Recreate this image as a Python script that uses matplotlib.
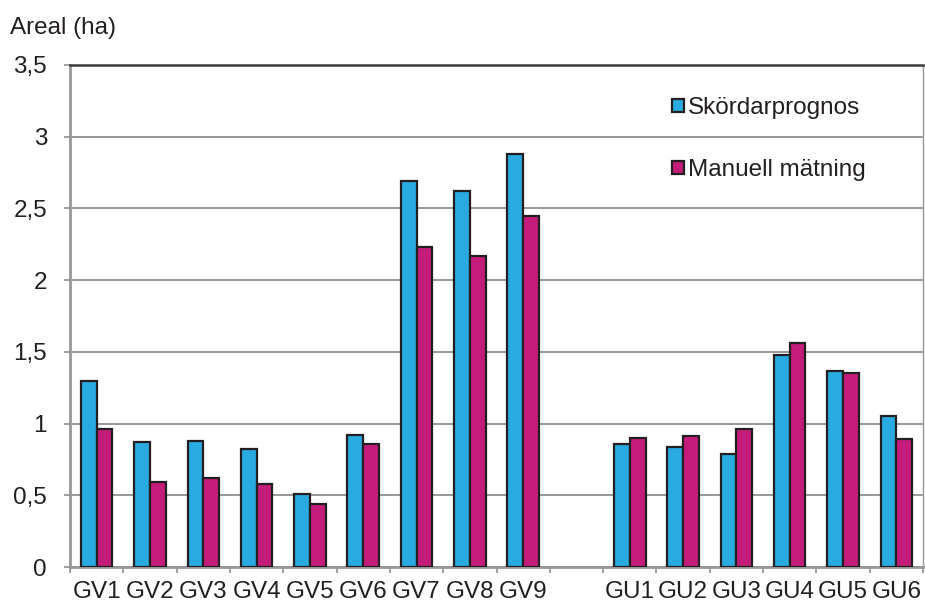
import matplotlib
matplotlib.use("Agg")
import matplotlib.pyplot as plt
import numpy as np

plt.rcParams['font.family'] = ['Liberation Sans', 'DejaVu Sans']

categories = ["GV1", "GV2", "GV3", "GV4", "GV5", "GV6", "GV7", "GV8", "GV9", "",
              "GU1", "GU2", "GU3", "GU4", "GU5", "GU6"]
skordarprognos = [1.30, 0.87, 0.88, 0.82, 0.51, 0.92, 2.69, 2.62, 2.88, None,
                  0.86, 0.84, 0.79, 1.48, 1.37, 1.05]
manuell_matning = [0.96, 0.59, 0.62, 0.58, 0.44, 0.86, 2.23, 2.17, 2.45, None,
                   0.90, 0.91, 0.96, 1.56, 1.35, 0.89]
y_ticks = [0, 0.5, 1, 1.5, 2, 2.5, 3, 3.5]
y_tick_labels = ["0", "0,5", "1", "1,5", "2", "2,5", "3", "3,5"]
series_names = ["Skördarprognos", "Manuell mätning"]

BLUE = "#29ABE2"
MAGENTA = "#C41C7B"
EDGE = "#231F20"
GRID = "#989898"
TEXT = "#231F20"
FS = 17.5

W, H = 925, 604
fig = plt.figure(figsize=(W / 100, H / 100), dpi=100)
ax = fig.add_axes([70 / W, (H - 567) / H, (923 - 70) / W, (567 - 65) / H])

x = np.arange(len(categories))
bw = 0.295
idx = [i for i, v in enumerate(skordarprognos) if v is not None]
ax.bar(x[idx] - bw / 2, [skordarprognos[i] for i in idx], width=bw,
       color=BLUE, edgecolor=EDGE, linewidth=1.6, zorder=3, label=series_names[0])
ax.bar(x[idx] + bw / 2, [manuell_matning[i] for i in idx], width=bw,
       color=MAGENTA, edgecolor=EDGE, linewidth=1.6, zorder=3, label=series_names[1])

ax.set_xlim(-0.5, len(categories) - 0.5)
ax.set_ylim(0, 3.5)

ax.set_yticks(y_ticks)
ax.set_yticklabels(y_tick_labels)
ax.yaxis.grid(True, color=GRID, linewidth=1.4, zorder=0)
ax.set_axisbelow(True)

ax.set_xticks(x)
ax.set_xticklabels(categories)
ax.set_xticks(np.arange(-0.5, len(categories)), minor=True)
ax.tick_params(axis='x', which='major', length=0, pad=10, labelsize=FS, colors=TEXT)
ax.tick_params(axis='x', which='minor', length=4.5, width=1.3, color=GRID)
ax.tick_params(axis='y', which='major', length=4.5, width=1.3, color=GRID,
               pad=12, labelsize=FS, labelcolor=TEXT)

for side in ("left", "bottom"):
    ax.spines[side].set_color(GRID)
    ax.spines[side].set_linewidth(2.0)
ax.spines["right"].set_color(GRID)
ax.spines["right"].set_linewidth(1.0)
ax.spines["top"].set_color("#3a3a3a")
ax.spines["top"].set_linewidth(1.8)

fig.text(10 / W, 1 - 28 / H, "Areal (ha)", fontsize=FS, color=TEXT,
         ha='left', va='center')

leg = ax.legend(loc='upper left', bbox_to_anchor=(672 / W, 1 - 97 / H),
                bbox_transform=fig.transFigure, frameon=False, fontsize=FS,
                handlelength=0.48, handleheight=0.48, handletextpad=0.18,
                labelspacing=1.65, borderpad=0, borderaxespad=0)
for t in leg.get_texts():
    t.set_color(TEXT)

fig.savefig("out.png", dpi=100)
